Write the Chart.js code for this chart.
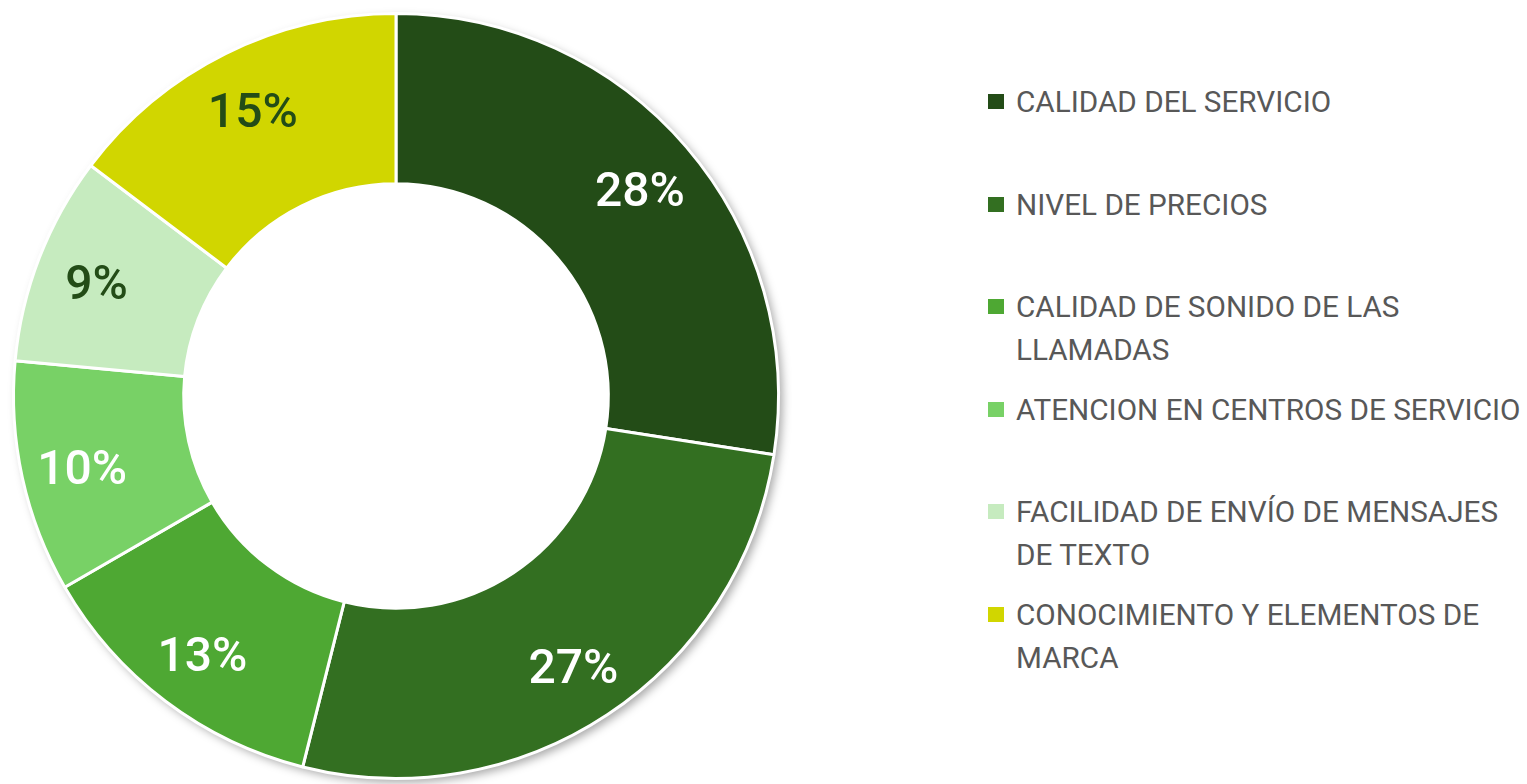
<!DOCTYPE html>
<html>
<head>
<meta charset="utf-8">
<script src="https://cdn.jsdelivr.net/npm/chart.js@4.4.0/dist/chart.umd.min.js"></script>
<style>
  html, body { margin: 0; padding: 0; background: #fff; overflow: hidden; }
  #wrap { position: absolute; left: 0; top: 0; width: 792px; height: 792px; }
  #legend { position: absolute; left: 988px; top: 0; font-family: Roboto, sans-serif; font-size: 29.7px; color: #585858; }
  .item { position: absolute; left: 0; white-space: nowrap; line-height: 43px; }
  .box { position: absolute; left: 0; top: 14px; width: 16px; height: 15px; }
  .txt { position: absolute; left: 28px; top: 0; }
</style>
</head>
<body>
<div id="wrap"><canvas id="chart"></canvas></div>
<div id="legend"></div>
<script>
// data
const labels = [
  ['CALIDAD DEL SERVICIO'],
  ['NIVEL DE PRECIOS'],
  ['CALIDAD DE SONIDO DE LAS', 'LLAMADAS'],
  ['ATENCION EN CENTROS DE SERVICIO'],
  ['FACILIDAD DE ENVÍO DE MENSAJES', 'DE TEXTO'],
  ['CONOCIMIENTO Y ELEMENTOS DE', 'MARCA']
];
const values = [28, 27, 13, 10, 9, 15];
const colors = ['#234c17', '#336f21', '#4ea833', '#78d166', '#c6ebbf', '#d1d600'];
const labelColors = ['#ffffff', '#ffffff', '#ffffff', '#ffffff', '#234c17', '#234c17'];

// legend built from the same arrays
const legend = document.getElementById('legend');
labels.forEach((lines, i) => {
  const item = document.createElement('div');
  item.className = 'item';
  item.style.top = (80 + i * 102.6) + 'px';
  item.innerHTML = `<span class="box" style="background:${colors[i]}"></span>
                    <span class="txt">${lines.join('<br>')}</span>`;
  legend.appendChild(item);
});

// soft shadow behind the ring
const ringShadow = {
  id: 'ringShadow',
  beforeDatasetsDraw(chart) {
    const arc = chart.getDatasetMeta(0).data[0];
    if (!arc) return;
    const ctx = chart.ctx;
    ctx.save();
    ctx.shadowColor = 'rgba(0,0,0,0.35)';
    ctx.shadowBlur = 10;
    ctx.shadowOffsetX = 4;
    ctx.shadowOffsetY = 4;
    ctx.fillStyle = '#fff';
    ctx.beginPath();
    ctx.arc(arc.x, arc.y, arc.outerRadius, 0, Math.PI * 2);
    ctx.fill();
    ctx.restore();
  }
};

// percentage labels inside the slices
const sliceLabels = {
  id: 'sliceLabels',
  afterDatasetsDraw(chart) {
    const ctx = chart.ctx;
    const meta = chart.getDatasetMeta(0);
    ctx.save();
    ctx.font = '500 48px Roboto, sans-serif';
    ctx.textAlign = 'center';
    ctx.textBaseline = 'middle';
    meta.data.forEach((arc, i) => {
      const mid = (arc.startAngle + arc.endAngle) / 2;
      const r = arc.innerRadius + 0.64 * (arc.outerRadius - arc.innerRadius);
      ctx.fillStyle = labelColors[i];
      ctx.fillText(values[i] + '%', arc.x + r * Math.cos(mid), arc.y + r * Math.sin(mid) + 7);
    });
    ctx.restore();
  }
};

new Chart(document.getElementById('chart'), {
  type: 'doughnut',
  data: {
    labels: labels.map(l => l.join(' ')),
    datasets: [{
      data: values,
      backgroundColor: colors,
      borderColor: '#ffffff',
      borderWidth: 3
    }]
  },
  options: {
    responsive: true,
    maintainAspectRatio: false,
    animation: false,
    cutout: '55.5%',
    layout: { padding: 12 },
    plugins: {
      legend: { display: false },
      tooltip: { enabled: false }
    }
  },
  plugins: [ringShadow, sliceLabels]
});
</script>
</body>
</html>
